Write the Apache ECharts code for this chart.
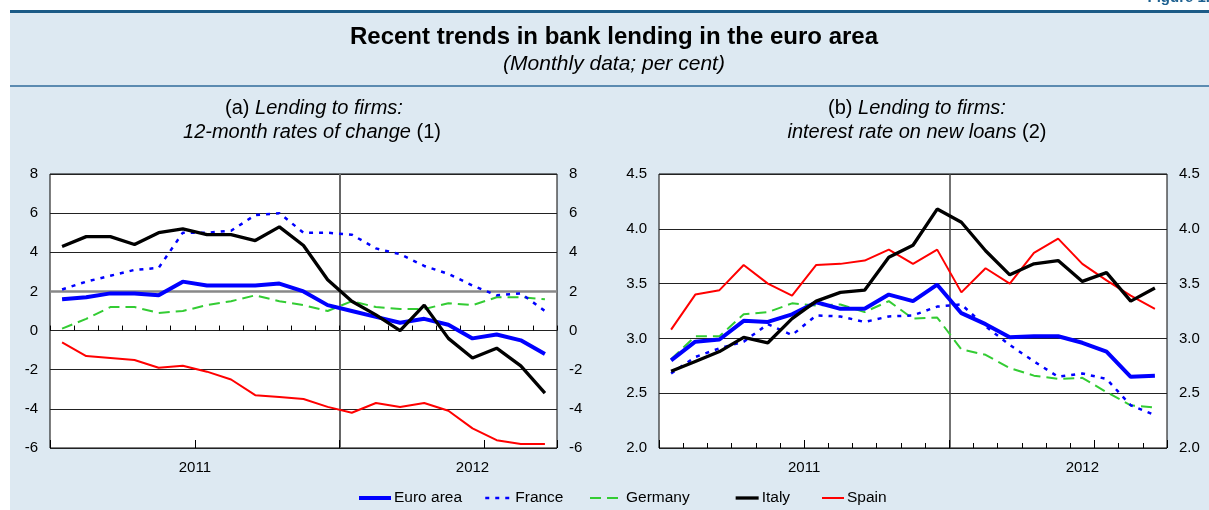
<!DOCTYPE html>
<html><head><meta charset="utf-8">
<script src="https://cdn.jsdelivr.net/npm/echarts@6/dist/echarts.min.js"></script>
<style>html,body{margin:0;padding:0;background:#fff}#c{width:1209px;height:510px}</style>
</head><body><div id="c"></div>
<script>
// ---- data ----
const months = ['Jan 2011','Feb 2011','Mar 2011','Apr 2011','May 2011','Jun 2011','Jul 2011','Aug 2011','Sep 2011','Oct 2011','Nov 2011','Dec 2011',
                'Jan 2012','Feb 2012','Mar 2012','Apr 2012','May 2012','Jun 2012','Jul 2012','Aug 2012','Sep 2012'];
const seriesNames = ['Euro area','France','Germany','Italy','Spain'];
// (a) 12-month rates of change
const euroA    = [1.6, 1.7, 1.9, 1.9, 1.8, 2.5, 2.3, 2.3, 2.3, 2.4, 2.0, 1.3, 1.0, 0.7, 0.4, 0.6, 0.3, -0.4, -0.2, -0.5, -1.2];
const franceA  = [2.1, 2.5, 2.8, 3.1, 3.2, 5.0, 5.0, 5.1, 5.9, 6.0, 5.0, 5.0, 4.9, 4.2, 3.9, 3.3, 2.9, 2.3, 1.8, 1.9, 1.0];
const germanyA = [0.1, 0.6, 1.2, 1.2, 0.9, 1.0, 1.3, 1.5, 1.8, 1.5, 1.3, 1.0, 1.5, 1.2, 1.1, 1.1, 1.4, 1.3, 1.7, 1.7, 1.6];
const italyA   = [4.3, 4.8, 4.8, 4.4, 5.0, 5.2, 4.9, 4.9, 4.6, 5.3, 4.35, 2.6, 1.5, 0.8, 0.0, 1.3, -0.4, -1.4, -0.9, -1.8, -3.2];
const spainA   = [-0.6, -1.3, -1.4, -1.5, -1.9, -1.8, -2.1, -2.5, -3.3, -3.4, -3.5, -3.9, -4.2, -3.7, -3.9, -3.7, -4.1, -5.0, -5.6, -5.8, -5.8];
// (b) interest rate on new loans
const euroB    = [2.80, 2.97, 2.99, 3.16, 3.15, 3.22, 3.33, 3.27, 3.27, 3.40, 3.34, 3.49, 3.23, 3.13, 3.01, 3.02, 3.02, 2.96, 2.88, 2.65, 2.66];
const franceB  = [2.68, 2.83, 2.91, 2.97, 3.13, 3.03, 3.21, 3.20, 3.15, 3.20, 3.21, 3.29, 3.31, 3.11, 2.94, 2.79, 2.65, 2.68, 2.63, 2.39, 2.30];
const germanyB = [2.81, 3.02, 3.02, 3.22, 3.24, 3.32, 3.30, 3.31, 3.24, 3.34, 3.18, 3.19, 2.90, 2.85, 2.73, 2.66, 2.63, 2.64, 2.51, 2.39, 2.37];
const italyB   = [2.70, 2.79, 2.88, 3.01, 2.96, 3.18, 3.34, 3.42, 3.44, 3.74, 3.85, 4.18, 4.06, 3.80, 3.58, 3.68, 3.71, 3.52, 3.60, 3.34, 3.46];
const spainB   = [3.08, 3.40, 3.44, 3.67, 3.50, 3.39, 3.67, 3.68, 3.71, 3.81, 3.68, 3.81, 3.42, 3.64, 3.50, 3.78, 3.91, 3.68, 3.53, 3.39, 3.27];
// tick labels
const yearLabelsAt = {6: '2011', 17.5: '2012'};
const yTicksA = {min: -6, max: 8, interval: 2};
const yTicksB = {min: 2.0, max: 4.5, interval: 0.5};

// ---- layout & styles ----
const W = 1209, H = 510, PANEL = 10;
const FONT = '"Liberation Sans", Arial, Helvetica, sans-serif';
const BLUE_BG = '#dde9f2';
const GRIDS = [{left: 50, top: 174, width: 507, height: 274}, {left: 659, top: 174, width: 508, height: 274}];
const styles = {
  'Euro area': {color: '#0000ff', width: 4,   type: 'solid'},
  'France':    {color: '#0000ff', width: 2.5, type: [4, 6]},
  'Germany':   {color: '#33cc33', width: 2,   type: [11, 6]},
  'Italy':     {color: '#000000', width: 3.3, type: 'solid'},
  'Spain':     {color: '#ff0000', width: 2,   type: 'solid'}
};
const legendPos = {'Euro area': [357, 32], 'France': [484, 27], 'Germany': [589, 33], 'Italy': [734, 23], 'Spain': [821, 22]};

const toPts = arr => arr.map((v, i) => [i + 0.5, v]);

function xAxes(gi) {
  const base = {type: 'value', gridIndex: gi, min: 0, max: months.length, position: 'bottom', z: 5,
    axisLine: {show: false}, splitLine: {show: false}};
  return [
    Object.assign({}, base, {interval: 1, axisTick: {show: true, inside: true, length: 5, lineStyle: {color: '#000', width: 1}}, axisLabel: {show: false}}),
    Object.assign({}, base, {interval: 0.5, axisTick: {show: false},
      axisLabel: {show: true, margin: 12, fontSize: 15, color: '#000', fontFamily: FONT, formatter: v => yearLabelsAt[v] || ''}}),
    Object.assign({}, base, {interval: 6, axisTick: {show: true, inside: true, length: 8, lineStyle: {color: '#000', width: 1}}, axisLabel: {show: false}})
  ];
}
function yAxes(gi, t, fmt) {
  const base = {type: 'value', gridIndex: gi, min: t.min, max: t.max, interval: t.interval, z: 5,
    axisLine: {show: false}, axisTick: {show: false},
    axisLabel: {margin: 12, fontSize: 15, color: '#000', fontFamily: FONT, formatter: fmt}};
  return [
    Object.assign({}, base, {position: 'left', splitLine: {show: true, lineStyle: {color: '#222', width: 1}}}),
    Object.assign({}, base, {position: 'right', splitLine: {show: false}})
  ];
}

function mkSeries(name, arr, xi, yi, extra) {
  const s = styles[name];
  return Object.assign({
    name: name, type: 'line', xAxisIndex: xi, yAxisIndex: yi, data: toPts(arr),
    symbol: 'none', showSymbol: false, smooth: false, animation: false,
    lineStyle: {color: s.color, width: s.width, type: s.type}, itemStyle: {color: s.color}, z: 6
  }, extra || {});
}
const markLineBase = {symbol: ['none', 'none'], silent: true, label: {show: false}, animation: false};

const series = [
  mkSeries('Spain', spainA, 0, 0, {markLine: Object.assign({}, markLineBase, {data: [
    {xAxis: 12, lineStyle: {color: '#666', width: 2, type: 'solid'}},
    {yAxis: 2, lineStyle: {color: '#888', width: 2.5, type: 'solid'}}
  ]})}),
  mkSeries('Germany', germanyA, 0, 0),
  mkSeries('France', franceA, 0, 0),
  mkSeries('Euro area', euroA, 0, 0),
  mkSeries('Italy', italyA, 0, 0),
  mkSeries('Spain', spainB, 3, 2, {markLine: Object.assign({}, markLineBase, {data: [
    {xAxis: 12, lineStyle: {color: '#444', width: 1.5, type: 'solid'}}
  ]})}),
  mkSeries('Germany', germanyB, 3, 2),
  mkSeries('France', franceB, 3, 2),
  mkSeries('Euro area', euroB, 3, 2),
  mkSeries('Italy', italyB, 3, 2)
];

const legends = seriesNames.map(n => ({
  data: [n], left: legendPos[n][0], top: 490, padding: 0, itemWidth: legendPos[n][1], itemHeight: 14, itemGap: 0, z: 5,
  selectedMode: false, textStyle: {fontSize: 15.5, color: '#000', fontFamily: FONT, padding: [0, 0, 0, -2]},
  itemStyle: {opacity: 0},
  lineStyle: {width: styles[n].width, type: styles[n].type, color: styles[n].color}
}));

const txt = (text, x, y, font, extra) => ({type: 'text', x: x, y: y, z: 10,
  style: Object.assign({text: text, font: font, fill: '#000', align: 'center', verticalAlign: 'middle'}, extra || {})});
const richStyles = {n: {font: '20px ' + FONT, fill: '#000'}, i: {font: 'italic 20px ' + FONT, fill: '#000'}};

// light-blue panel drawn around the (white) plot areas
const g0 = GRIDS[0], g1 = GRIDS[1];
const gBottom = g0.top + g0.height;
const blueRects = [
  [PANEL, PANEL, W - PANEL, g0.top - PANEL],
  [PANEL, gBottom, W - PANEL, H - gBottom],
  [PANEL, g0.top, g0.left - PANEL, g0.height],
  [g0.left + g0.width, g0.top, g1.left - g0.left - g0.width, g0.height],
  [g1.left + g1.width, g1.top, W - g1.left - g1.width, g1.height]
].map(r => ({type: 'rect', z: 1, silent: true, shape: {x: r[0], y: r[1], width: r[2], height: r[3]}, style: {fill: BLUE_BG}}));

const option = {
  backgroundColor: '#ffffff',
  animation: false,
  graphic: {elements: blueRects.concat([
    {type: 'rect', z: 2, shape: {x: PANEL, y: PANEL, width: W - PANEL, height: 3}, style: {fill: '#1b5b87'}},
    {type: 'rect', z: 2, shape: {x: PANEL, y: 85, width: W - PANEL, height: 2}, style: {fill: '#5b8bb1'}},
    txt('Figure 1.', 1210, 5, 'bold 15px ' + FONT, {align: 'right', verticalAlign: 'bottom', fill: '#1d6090'}),
    txt('Recent trends in bank lending in the euro area', 614, 37, 'bold 24px ' + FONT),
    txt('(Monthly data; per cent)', 614, 64, 'italic 21px ' + FONT),
    txt('{n|(a) }{i|Lending to firms:}', 314, 108, '20px ' + FONT, {rich: richStyles}),
    txt('{i|12-month rates of change }{n|(1)}', 312, 132, '20px ' + FONT, {rich: richStyles}),
    txt('{n|(b) }{i|Lending to firms:}', 917, 108, '20px ' + FONT, {rich: richStyles}),
    txt('{i|interest rate on new loans }{n|(2)}', 917, 132, '20px ' + FONT, {rich: richStyles})
  ])},
  grid: GRIDS.map(g => Object.assign({show: true, z: 5, backgroundColor: '#ffffff', borderColor: '#000', borderWidth: 1}, g)),
  xAxis: xAxes(0).concat(xAxes(1)),
  yAxis: yAxes(0, yTicksA, v => String(v)).concat(yAxes(1, yTicksB, v => v.toFixed(1))),
  legend: legends,
  series: series
};
const chart = echarts.init(document.getElementById('c'), null, {renderer: 'canvas'});
chart.setOption(option);
</script>
</body></html>
